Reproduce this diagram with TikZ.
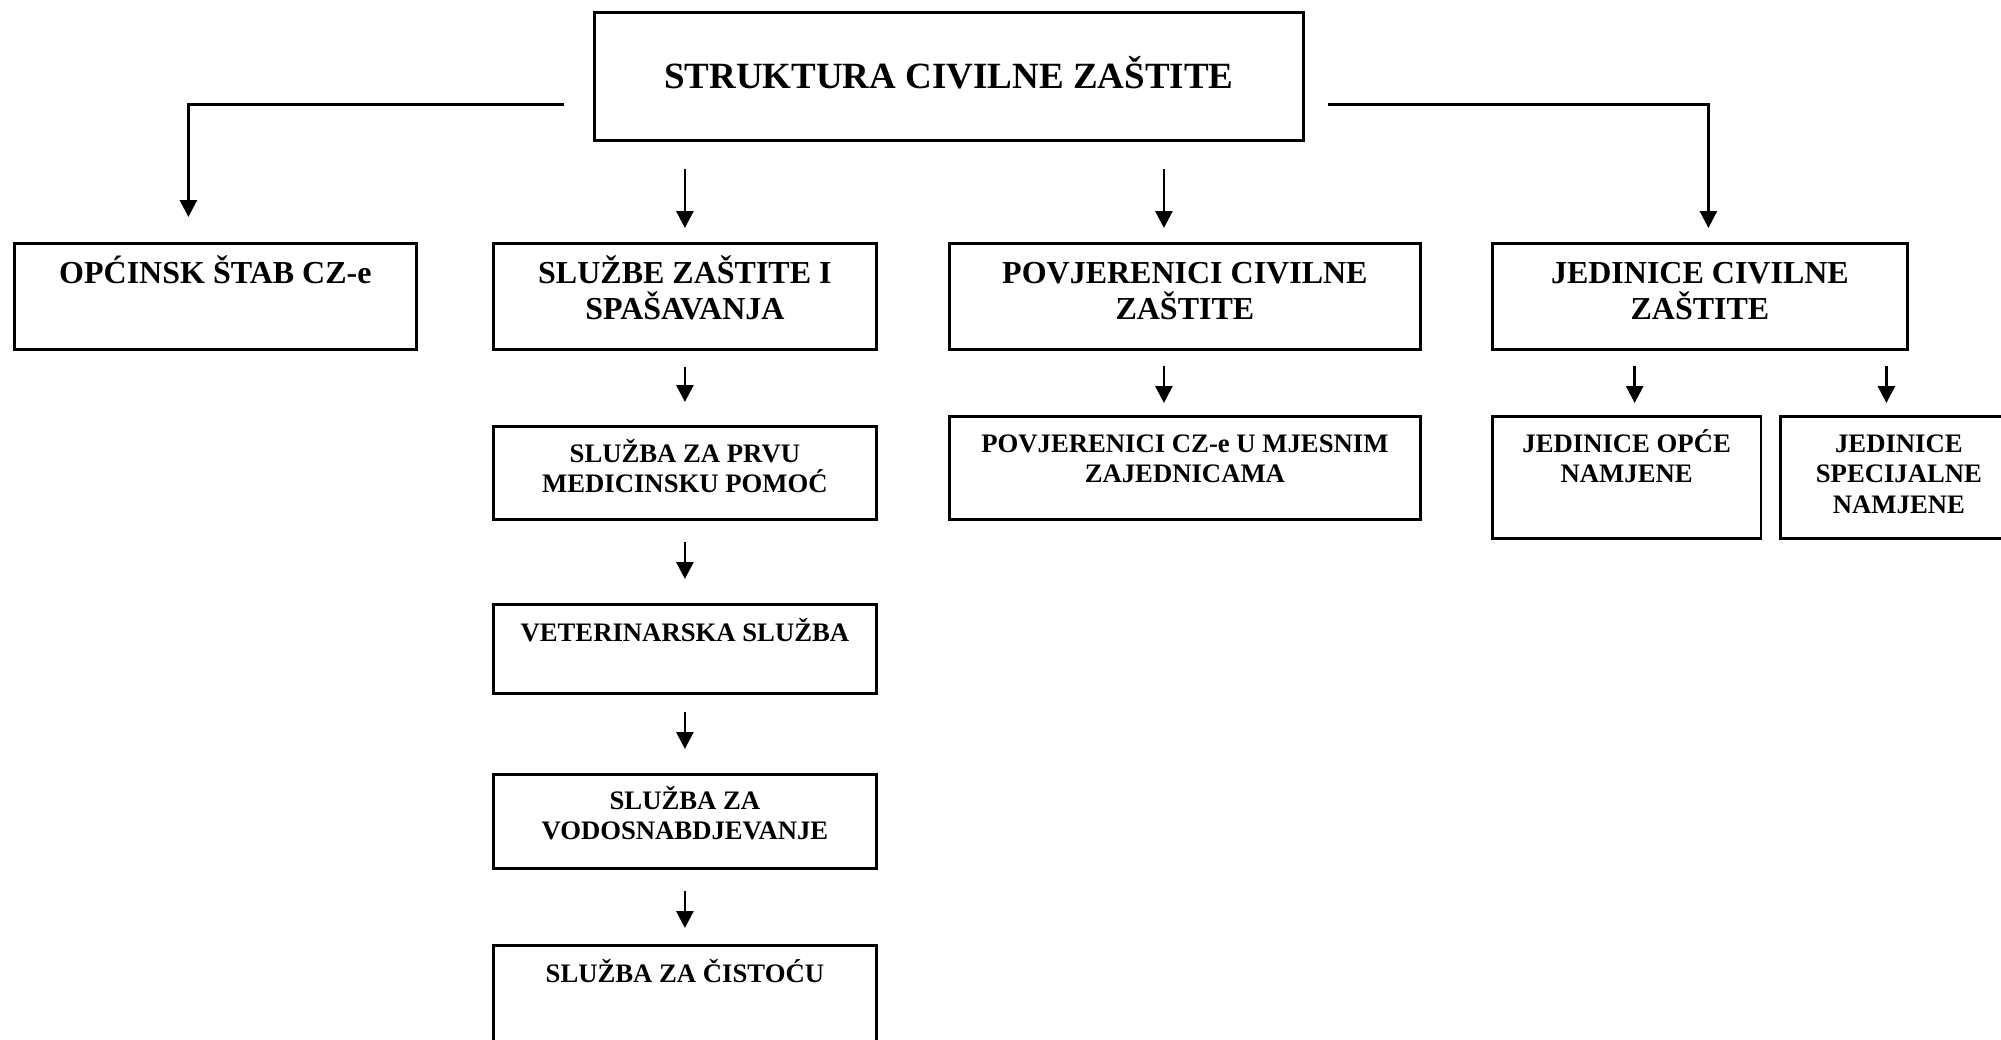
\documentclass[tikz,border=0pt]{standalone}
\usepackage{fontspec}
\setmainfont{Liberation Serif}
\usetikzlibrary{arrows.meta,calc}
\begin{document}
\begin{tikzpicture}[x=0.5pt,y=-0.5pt,
  box/.style={draw,line width=1.4pt,inner sep=0pt,anchor=north west},
  arr/.style={line width=1.4pt,-{Triangle[width=8.5pt,length=8.5pt]}},
  ttl/.style={font=\bfseries\fontsize{18.5pt}{21pt}\selectfont,anchor=base,align=center,inner sep=0pt},
  big/.style={font=\bfseries\fontsize{16pt}{18.4pt}\selectfont,anchor=base,align=center,inner sep=0pt},
  sml/.style={font=\bfseries\fontsize{13.35pt}{15.35pt}\selectfont,anchor=base,align=center,inner sep=0pt}]
\useasboundingbox (0,0) rectangle (2001,1039);
\clip (0,0) rectangle (2001,1039);

% boxes
\node[box,minimum width=354.5pt,minimum height=64pt] (T) at (593,11) {};
\node[box,minimum width=201pt,minimum height=53pt] (b1) at (13,242) {};
\node[box,minimum width=191.5pt,minimum height=53pt] (b2) at (492,242) {};
\node[box,minimum width=235.5pt,minimum height=53pt] (b3) at (948,242) {};
\node[box,minimum width=207.5pt,minimum height=53pt] (b4) at (1491,242) {};
\node[box,minimum width=191.5pt,minimum height=46.5pt] (s1) at (492,425) {};
\node[box,minimum width=191.5pt,minimum height=44.5pt] (s2) at (492,603) {};
\node[box,minimum width=191.5pt,minimum height=47pt] (s3) at (492,773) {};
\node[box,minimum width=191.5pt,minimum height=60pt] (s4) at (492,944) {};
\node[box,minimum width=235.5pt,minimum height=51.5pt] (p2) at (948,415) {};
\node[box,minimum width=134.25pt,minimum height=61pt] (j1) at (1491,415) {};
\node[box,minimum width=118.5pt,minimum height=61pt] (j2) at (1779,415) {};

% texts (anchor = baseline of the last line)
\node[ttl] (tT) at ($(T.north)+(0,77)$) {STRUKTURA CIVILNE ZAŠTITE};
\node[big] (t1) at ($(b1.north)+(0,41)$) {OPĆINSK ŠTAB CZ-e};
\node[big] (t2) at ($(b2.north)+(0,77.8)$) {SLUŽBE ZAŠTITE I\\SPAŠAVANJA};
\node[big] (t3) at ($(b3.north)+(0,77.8)$) {POVJERENICI CIVILNE\\ZAŠTITE};
\node[big] (t4) at ($(b4.north)+(0,77.8)$) {JEDINICE CIVILNE\\ZAŠTITE};
\node[sml] (ts1) at ($(s1.north)+(0,67.7)$) {SLUŽBA ZA PRVU\\MEDICINSKU POMOĆ};
\node[sml] (ts2) at ($(s2.north)+(0,38)$) {VETERINARSKA SLUŽBA};
\node[sml] (ts3) at ($(s3.north)+(0,66.7)$) {SLUŽBA ZA\\VODOSNABDJEVANJE};
\node[sml] (ts4) at ($(s4.north)+(0,38)$) {SLUŽBA ZA ČISTOĆU};
\node[sml] (tp2) at ($(p2.north)+(0,67.7)$) {POVJERENICI CZ-e U MJESNIM\\ZAJEDNICAMA};
\node[sml] (tj1) at ($(j1.north)+(0,67.7)$) {JEDINICE OPĆE\\NAMJENE};
\node[sml] (tj2) at ($(j2.north)+(0,98.4)$) {JEDINICE\\SPECIJALNE\\NAMJENE};

% connectors
\draw[arr] ($(T.west)+(-29,28)$) -| ($(b1.north)+(-27,-25)$);
\draw[arr] ($(T.east)+(23,28)$) -| ($(b4.north)+(8.5,-14)$);
\draw[arr] ($(T.south -| b2.north)+(0,27)$) -- ($(b2.north)+(0,-14)$);
\draw[arr] ($(T.south -| b3.north)+(-21,27)$) -- ($(b3.north)+(-21,-14)$);

\draw[arr] ($(b2.south)+(0,16)$) -- ($(s1.north)+(0,-23)$);
\draw[arr] ($(s1.south)+(0,21)$) -- ($(s2.north)+(0,-24)$);
\draw[arr] ($(s2.south)+(0,17)$) -- ($(s3.north)+(0,-24)$);
\draw[arr] ($(s3.south)+(0,21)$) -- ($(s4.north)+(0,-16)$);

\draw[arr] ($(b3.south)+(-21,15)$) -- ($(p2.north)+(-21,-12)$);
\draw[arr] ($(b4.south -| j1.north)+(8,15)$) -- ($(j1.north)+(8,-12)$);
\draw[arr] ($(b4.south -| j2.north)+(-12.5,15)$) -- ($(j2.north)+(-12.5,-12)$);
\end{tikzpicture}
\end{document}
